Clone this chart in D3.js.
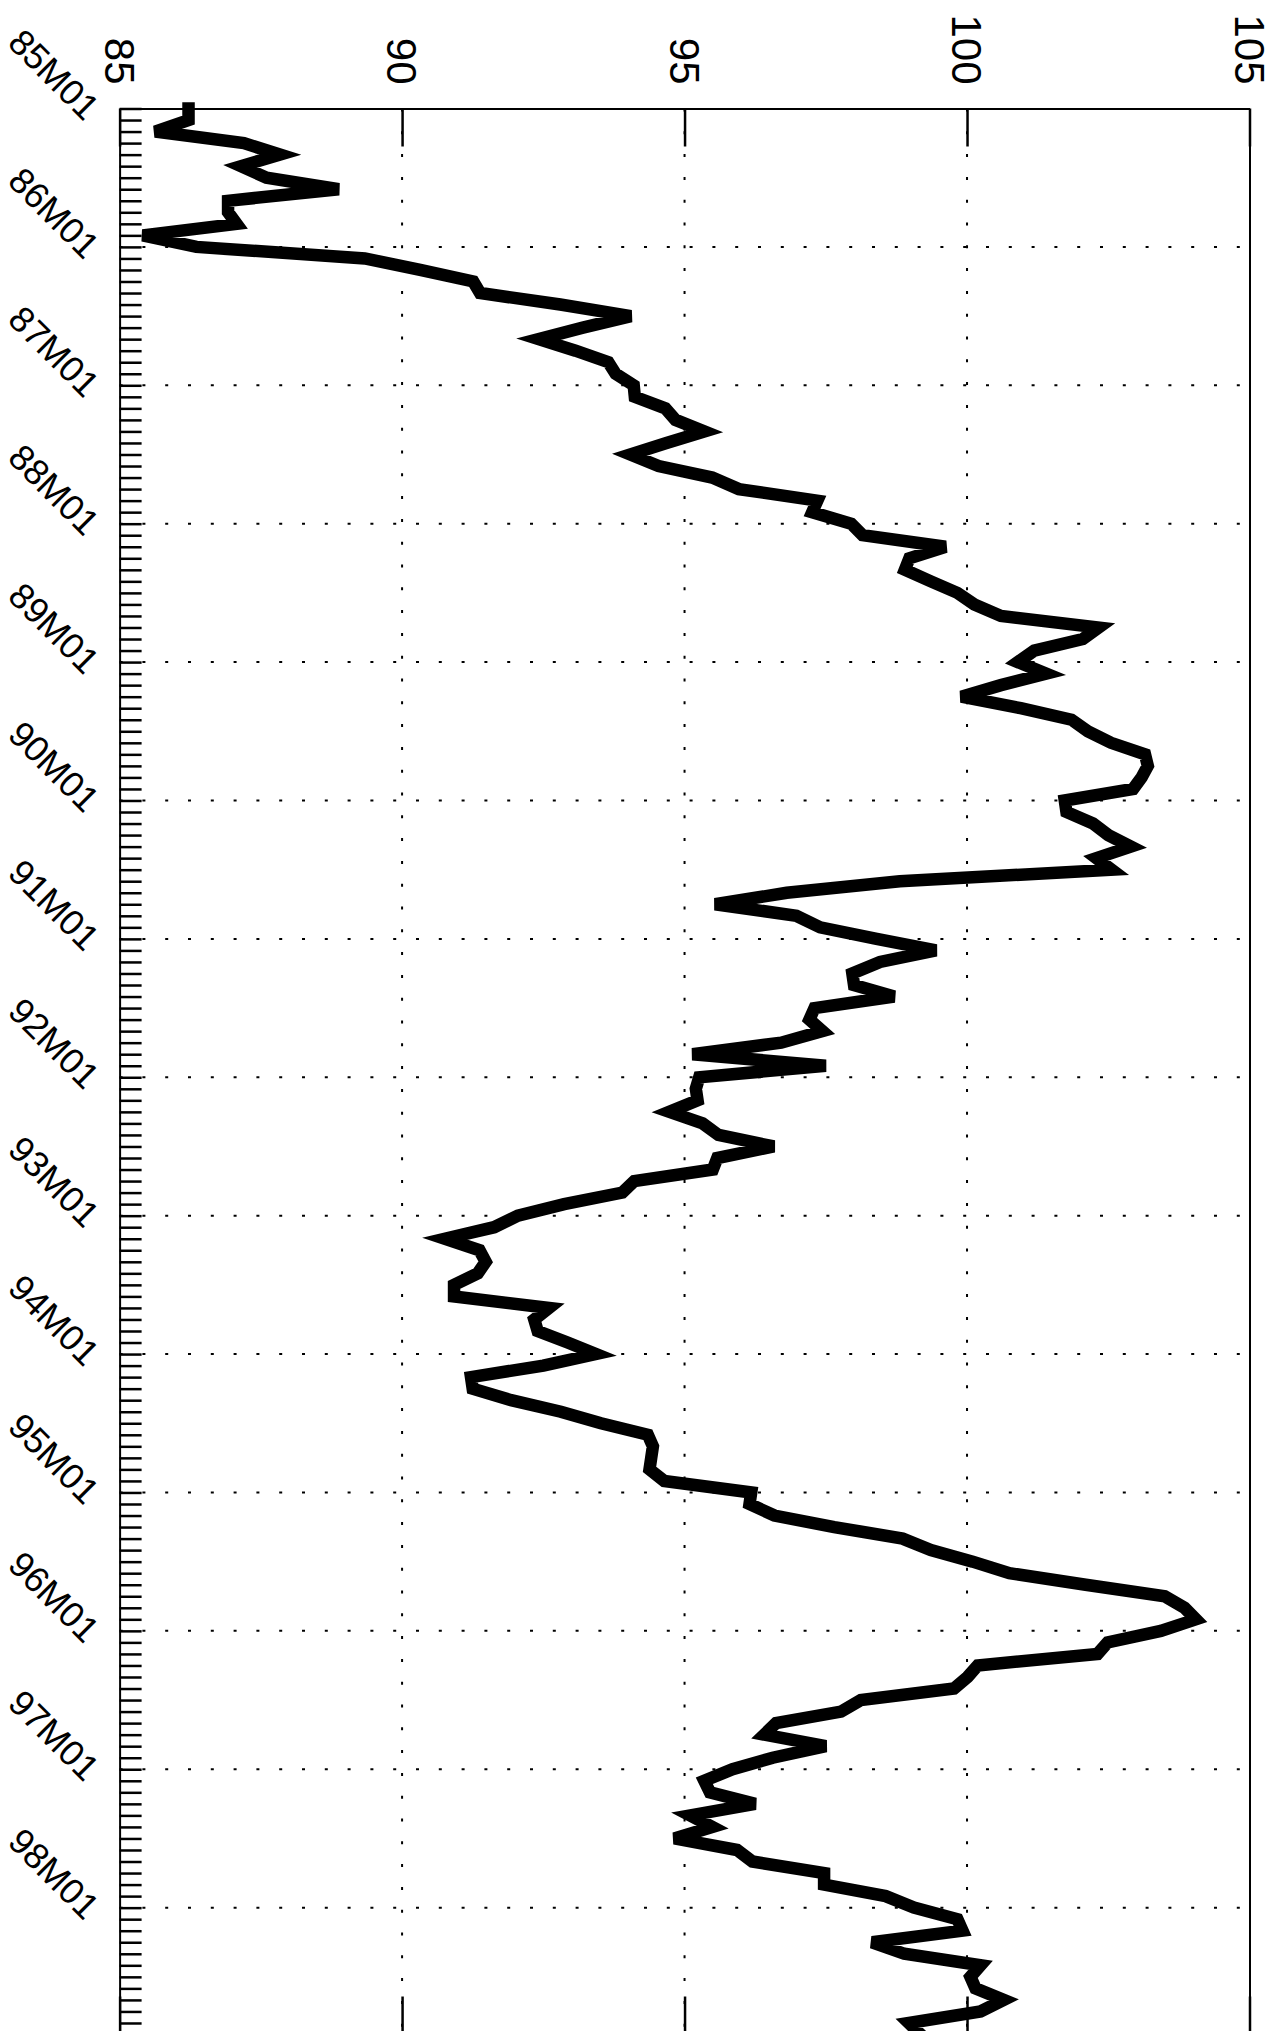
<!DOCTYPE html>
<html>
<head>
<meta charset="utf-8">
<script src="https://cdn.jsdelivr.net/npm/d3@7"></script>
<style>
  html, body { margin: 0; padding: 0; background: #fff; overflow: hidden; }
  svg { display: block; }
  text { font-family: "Liberation Sans", Arial, Helvetica, sans-serif; fill: #000; }
</style>
</head>
<body>
<svg id="chart" width="1283" height="2031"></svg>
<script>
// ---- data (monthly index, 85M01 .. 98M12) ----
const values = [
  86.22, 86.22, 85.63, 87.20, 87.84, 87.15, 87.60, 88.88, 86.92, 86.92, 87.07, 85.41, // 1985
  86.36, 89.34, 90.32, 91.26, 91.38, 92.80, 94.05, 93.20, 92.42, 93.07, 93.65, 93.78, // 1986
  94.10, 94.12, 94.66, 94.84, 95.35, 94.68, 94.04, 94.54, 95.49, 95.96, 97.35, 97.26, // 1987
  97.95, 98.15, 99.62, 98.98, 98.90, 99.36, 99.83, 100.13, 100.60, 102.33, 102.05, 101.19, // 1988
  100.90, 101.40, 100.60, 99.90, 100.95, 101.85, 102.14, 102.55, 103.15, 103.20, 103.09, 102.94, // 1989
  101.73, 101.76, 102.23, 102.50, 102.90, 102.29, 102.56, 98.81, 96.81, 95.54, 96.98, 97.40, // 1990
  98.40, 99.45, 98.46, 97.97, 98.00, 98.71, 97.30, 97.21, 97.44, 96.71, 95.14, 97.50, // 1991
  95.26, 95.20, 95.23, 94.73, 95.32, 95.60, 96.58, 95.58, 95.50, 94.11, 93.90, 92.87, // 1992
  92.05, 91.63, 90.76, 91.37, 91.48, 91.34, 90.92, 90.92, 92.60, 92.34, 92.40, 92.93, // 1993
  93.43, 92.50, 91.22, 91.25, 91.93, 92.81, 93.52, 94.35, 94.44, 94.41, 94.38, 94.64, // 1994
  96.18, 96.15, 96.59, 97.65, 98.86, 99.36, 100.10, 100.75, 102.10, 103.50, 103.85, 104.05, // 1995
  103.43, 102.49, 102.31, 100.19, 100.01, 99.77, 98.12, 97.77, 96.62, 96.41, 97.50, 96.56, // 1996
  95.85, 95.35, 95.45, 96.25, 95.10, 95.49, 94.82, 95.93, 96.20, 97.47, 97.47, 98.56, // 1997
  99.06, 99.83, 99.92, 98.32, 98.89, 100.24, 100.06, 100.15, 100.65, 100.24, 98.97, 99.18  // 1998
];
const dateLabels = ["85M01","86M01","87M01","88M01","89M01","90M01","91M01",
                    "92M01","93M01","94M01","95M01","96M01","97M01","98M01"];
const valueTicks = [85, 90, 95, 100, 105];
const gridValues = [90, 95, 100];

// ---- layout ----
const plotLeft = 119.6, plotRight = 1249.5, plotTop = 108.5;
const monthStep = 11.533;
const nPts = values.length;
const plotBottom = plotTop + (nPts - 1) * monthStep;

const svg = d3.select("#chart");
const xScale = d3.scaleLinear().domain([85, 105]).range([plotLeft, plotRight]);
const yScale = d3.scaleLinear().domain([0, nPts - 1]).range([plotTop, plotBottom]);

const data = values.map((v, i) => ({ i, v }));
const yearIdx = dateLabels.map((d, k) => k * 12);

// ---- grid (dotted) ----
const grid = svg.append("g")
  .attr("stroke", "#000").attr("stroke-width", 2)
  .attr("stroke-dasharray", "3,19.8").attr("fill", "none");
grid.selectAll("line.v").data(gridValues).join("line").attr("class", "v")
  .attr("x1", d => xScale(d)).attr("x2", d => xScale(d))
  .attr("y1", plotTop).attr("y2", plotBottom);
grid.selectAll("line.h").data(yearIdx.slice(1)).join("line").attr("class", "h")
  .attr("y1", d => yScale(d)).attr("y2", d => yScale(d))
  .attr("x1", plotLeft).attr("x2", plotRight);

// ---- axes ----
const styleAxis = g => {
  g.selectAll("path.domain").attr("stroke", "#000").attr("stroke-width", 2);
  g.selectAll(".tick line").attr("stroke", "#000").attr("stroke-width", 2.5);
  g.selectAll(".tick text").remove();
};

// left (time) axis: monthly ticks pointing inward
svg.append("g")
  .attr("transform", `translate(${plotLeft},0)`)
  .call(d3.axisLeft(yScale).tickValues(d3.range(0, nPts)).tickSizeInner(-22).tickSizeOuter(0).tickFormat(""))
  .call(styleAxis);

// top (value) axis
svg.append("g")
  .attr("transform", `translate(0,${plotTop})`)
  .call(d3.axisTop(xScale).tickValues(valueTicks).tickSizeInner(-38).tickSizeOuter(0).tickFormat(""))
  .call(styleAxis);

// bottom (value) axis ticks
svg.append("g")
  .attr("transform", `translate(0,${plotBottom})`)
  .call(d3.axisBottom(xScale).tickValues(valueTicks).tickSizeInner(-38).tickSizeOuter(0).tickFormat(""))
  .call(styleAxis);

// right border
svg.append("g")
  .attr("transform", `translate(${plotRight},0)`)
  .call(d3.axisRight(yScale).tickValues([]).tickSizeOuter(0))
  .call(styleAxis);

// value labels (rotated, reading top to bottom)
svg.append("g").selectAll("text").data(valueTicks).join("text")
  .attr("transform", d => `translate(${xScale(d)},${plotTop - 24}) rotate(90)`)
  .attr("text-anchor", "end")
  .attr("dy", "0.35em")
  .attr("font-size", 42)
  .text(d => d);

// date labels (rotated 45 degrees)
svg.append("g").selectAll("text").data(dateLabels).join("text")
  .attr("transform", (d, k) => `translate(54,${yScale(yearIdx[k]) - 34}) rotate(45)`)
  .attr("text-anchor", "middle")
  .attr("dominant-baseline", "central")
  .attr("font-size", 36)
  .text(d => d);

// ---- series line ----
const line = d3.line().x(d => xScale(d.v)).y(d => yScale(d.i));
svg.append("path")
  .datum(data)
  .attr("d", line)
  .attr("fill", "none")
  .attr("stroke", "#000")
  .attr("stroke-width", 12.5)
  .attr("stroke-linejoin", "miter")
  .attr("stroke-miterlimit", 4)
  .attr("stroke-linecap", "square");
</script>
</body>
</html>
